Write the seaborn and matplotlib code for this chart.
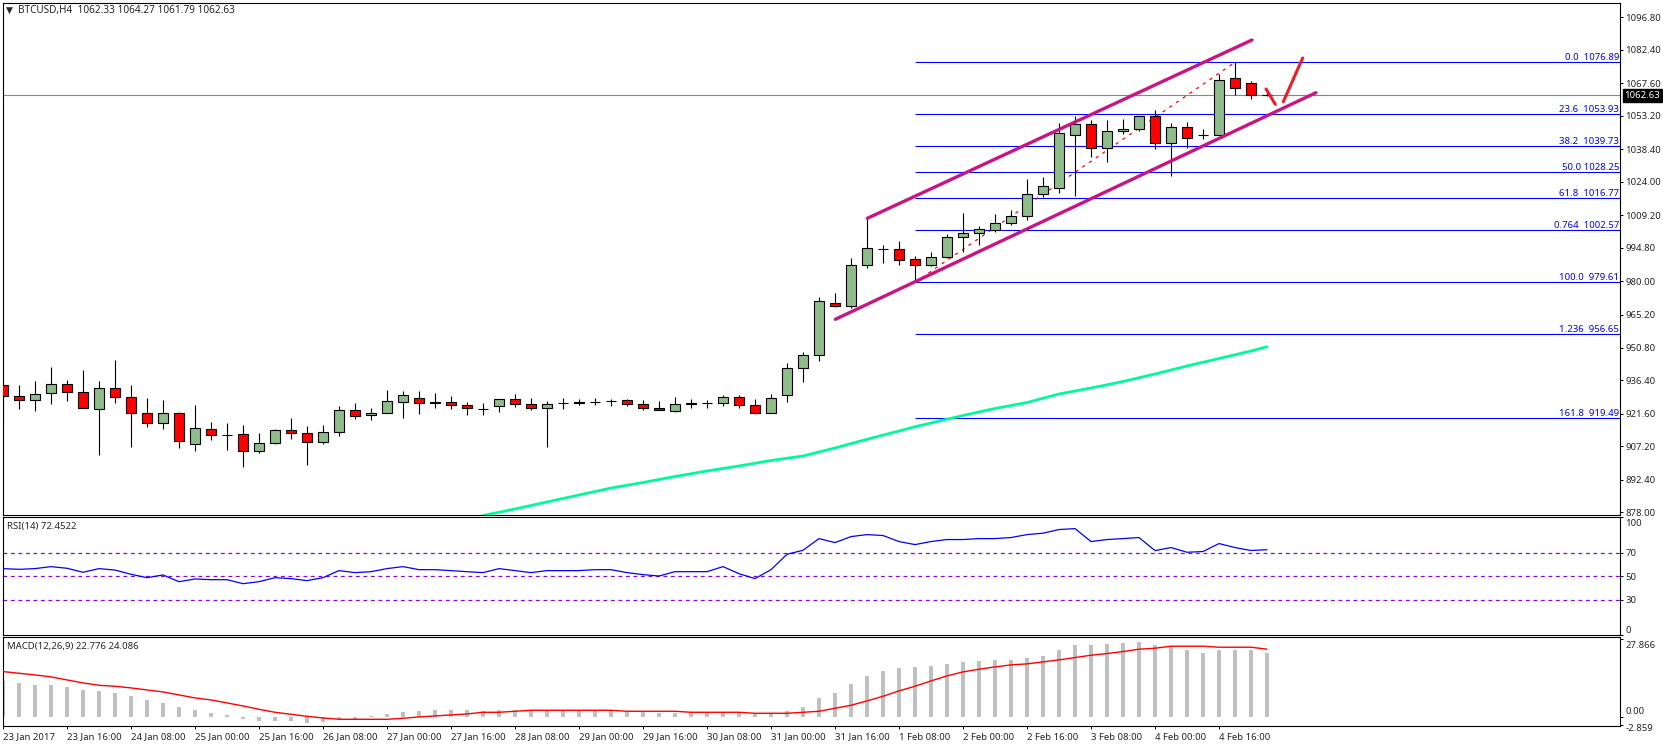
import numpy as np
import pandas as pd
import seaborn as sns
import matplotlib.pyplot as plt
from matplotlib.transforms import ScaledTranslation

# candles, one value per 4h bar
opens = [934.08, 929.22, 927.45, 930.54, 934.52, 930.99, 923.47, 932.75, 928.77, 921.70,
         917.28, 921.70, 908.00, 914.63, 912.12, 912.42, 904.90, 908.44, 914.19, 912.86,
         908.88, 913.30, 923.03, 920.82, 921.70, 926.57, 928.33, 926.57, 926.57, 925.24,
         923.47, 924.80, 927.89, 925.68, 923.91, 926.12, 926.57, 926.57, 926.95, 927.45,
         925.68, 923.91, 922.74, 926.20, 926.12, 926.12, 928.78, 925.24, 922.00, 929.66,
         941.60, 947.34, 970.33, 969.01, 987.13, 994.35, 994.21, 989.79, 987.43, 990.96,
         999.51, 1001.28, 1002.90, 1005.70, 1008.80, 1018.52, 1021.17, 1044.60, 1049.47, 1038.86,
         1046.37, 1047.26, 1053.00, 1041.07, 1048.14, 1044.75, 1044.60, 1069.80, 1067.59, 1062.33]
highs = [934.52, 934.08, 935.85, 942.04, 936.29, 940.71, 935.85, 945.13, 934.08, 928.33,
         927.45, 922.14, 925.24, 917.72, 917.28, 916.40, 912.86, 914.63, 919.49, 915.96,
         916.40, 924.80, 926.12, 923.91, 931.87, 931.43, 931.43, 930.54, 929.22, 926.57,
         926.12, 927.89, 930.10, 928.33, 927.01, 928.33, 927.89, 928.33, 927.89, 927.89,
         927.45, 927.01, 928.78, 927.89, 927.45, 929.66, 929.66, 927.89, 930.10, 943.81,
         948.67, 972.98, 974.75, 990.23, 1007.62, 996.12, 997.89, 991.11, 992.88, 1000.84,
         1010.27, 1004.37, 1009.68, 1011.45, 1025.30, 1026.18, 1049.91, 1053.00, 1051.24, 1051.24,
         1051.68, 1053.00, 1055.66, 1049.91, 1050.35, 1047.26, 1071.57, 1076.89, 1068.48, 1064.27]
lows = [915.81, 923.76, 922.88, 925.98, 927.30, 923.91, 903.43, 926.42, 906.97, 915.81,
        914.92, 906.52, 905.20, 910.06, 905.64, 898.12, 904.31, 908.29, 910.50, 899.01,
        908.29, 911.83, 919.35, 918.90, 921.70, 919.79, 921.56, 924.21, 923.77, 921.11,
        921.11, 922.44, 924.65, 923.32, 906.97, 923.77, 925.24, 925.24, 924.95, 925.09,
        923.18, 923.00, 922.20, 924.21, 924.21, 925.09, 924.21, 921.26, 921.70, 926.86,
        935.70, 944.69, 968.56, 968.42, 986.10, 988.31, 987.28, 979.61, 986.99, 990.52,
        993.18, 996.12, 1002.02, 1004.82, 1007.17, 1017.49, 1019.26, 1017.93, 1035.17, 1032.96,
        1045.34, 1046.67, 1038.71, 1026.77, 1039.15, 1043.13, 1044.60, 1062.58, 1060.81, 1061.79]
closes = [929.22, 927.45, 930.10, 934.52, 930.99, 923.91, 932.75, 928.77, 921.70, 917.28,
          921.70, 909.32, 915.07, 911.98, 912.00, 904.90, 908.44, 914.19, 912.86, 908.88,
          913.30, 923.03, 920.38, 921.70, 927.01, 929.66, 926.12, 926.12, 925.24, 923.91,
          923.47, 927.89, 925.68, 923.91, 925.68, 926.12, 926.12, 926.57, 926.95, 925.68,
          923.91, 923.33, 925.68, 925.90, 926.12, 928.78, 925.24, 922.00, 928.33, 941.60,
          947.34, 971.22, 969.01, 987.13, 994.65, 994.45, 989.64, 987.43, 990.96, 999.51,
          1001.28, 1003.05, 1005.70, 1008.80, 1018.52, 1022.06, 1045.49, 1049.47, 1038.86, 1046.37,
          1047.26, 1053.00, 1041.07, 1048.14, 1043.28, 1044.90, 1068.92, 1065.38, 1062.29, 1062.63]

# moving average, read at some of the bars
ma_bars = [30, 32, 34, 36, 38, 40, 42, 44, 46, 48, 50, 52, 54, 56, 57, 58, 60, 62, 64, 66, 68, 70, 72, 74, 76, 78, 79]
ma_values = [876.54, 879.41, 882.51, 885.60, 888.69, 891.13, 893.78, 896.21, 898.42, 900.85, 902.84, 906.38,
             910.22, 913.89, 915.79, 917.43, 920.75, 923.84, 926.49, 930.25, 932.90, 935.78, 939.09, 942.63,
             945.94, 949.26, 951.16]

rsi_values = [56.4, 55.8, 56.4, 58.1, 56.7, 53.3, 56.4, 55.2, 51.6, 48.7,
              51.0, 45.3, 47.6, 47.0, 47.0, 43.6, 45.3, 48.7, 47.9, 46.2,
              48.7, 54.7, 53.0, 53.8, 56.4, 58.1, 55.5, 55.5, 54.7, 53.8,
              53.0, 56.4, 54.7, 53.0, 54.7, 54.7, 54.7, 55.5, 55.5, 53.0,
              51.3, 50.1, 53.8, 53.8, 53.8, 58.1, 52.1, 47.9, 55.5, 68.6,
              72.0, 81.9, 78.5, 83.6, 85.3, 84.5, 79.4, 76.8, 79.4, 81.1,
              81.1, 81.9, 81.9, 82.8, 85.3, 86.5, 89.6, 90.4, 79.4, 81.1,
              81.9, 82.8, 71.7, 74.3, 70.3, 70.9, 77.7, 74.3, 71.8, 72.45]

macd_hist = [12.87, 12.16, 11.45, 11.45, 10.74, 9.68, 9.33, 8.62, 7.56, 6.14,
             5.08, 3.66, 2.60, 1.53, 0.83, -0.59, -1.30, -1.30, -1.30, -2.01,
             -1.65, -0.71, -0.71, 0.47, 1.18, 1.89, 2.24, 2.60, 2.60, 2.60,
             2.24, 2.60, 2.60, 2.24, 2.24, 2.24, 2.24, 2.24, 2.24, 1.89,
             1.89, 1.53, 1.53, 1.53, 1.53, 1.53, 1.53, 1.18, 1.18, 2.24,
             3.66, 6.85, 8.62, 11.81, 14.64, 16.41, 17.47, 17.83, 18.18, 18.89,
             19.60, 19.95, 20.31, 20.31, 21.02, 21.72, 23.85, 25.62, 25.62, 25.97,
             26.33, 26.68, 25.62, 24.91, 23.85, 22.78, 23.85, 23.85, 23.85, 22.78]
macd_signal = [16.17, 15.58, 14.99, 14.29, 13.22, 12.16, 11.33, 10.98, 10.39, 9.68,
               8.97, 7.91, 6.85, 6.14, 5.08, 4.01, 2.83, 1.77, 1.06, 0.35,
               -0.24, -0.71, -0.71, -0.71, -0.71, -0.35, 0.12, 0.47, 0.83, 1.18,
               1.77, 1.77, 2.13, 2.48, 2.48, 2.48, 2.48, 2.48, 2.48, 2.13,
               2.13, 2.13, 2.13, 1.77, 1.77, 1.77, 1.77, 1.42, 1.42, 1.42,
               1.77, 2.13, 3.19, 4.25, 5.79, 7.44, 9.33, 10.98, 12.87, 14.64,
               16.06, 17.00, 17.83, 18.54, 18.89, 19.60, 20.31, 21.13, 21.96, 22.55,
               23.26, 24.09, 24.44, 25.15, 25.15, 25.15, 24.79, 24.79, 24.79, 24.09]

# fibonacci levels
fib_labels = ['0.0  1076.89', '23.6  1053.93', '38.2  1039.73', '50.0 1028.25', '61.8  1016.77',
              '0.764  1002.57', '100.0  979.61', '1.236  956.65', '161.8  919.49']
fib_prices = [1076.89, 1053.93, 1039.73, 1028.25, 1016.77, 1002.57, 979.61, 956.65, 919.49]

price_ticks = [1096.80, 1082.40, 1067.60, 1053.20, 1038.40, 1024.00, 1009.20, 994.80, 980.00,
               965.20, 950.80, 936.40, 921.60, 907.20, 892.40, 878.00]
date_labels = ['23 Jan 2017', '23 Jan 16:00', '24 Jan 08:00', '25 Jan 00:00', '25 Jan 16:00',
               '26 Jan 08:00', '27 Jan 00:00', '27 Jan 16:00', '28 Jan 08:00', '29 Jan 00:00',
               '29 Jan 16:00', '30 Jan 08:00', '31 Jan 00:00', '31 Jan 16:00', '1 Feb 08:00',
               '2 Feb 00:00', '2 Feb 16:00', '3 Feb 08:00', '4 Feb 00:00', '4 Feb 16:00']

# hand drawn lines: (bar, price) at each end
channel_upper = ([54.02, 78.06], [1007.92, 1086.75])
channel_lower = ([52.02, 82.06], [963.27, 1063.45])
stroke_down = ([78.94, 79.52], [1065.09, 1058.32])
stroke_up = ([80.02, 81.23], [1059.47, 1078.79])

last_price = 1062.63
LABEL = 6.9
W, H = 1663, 747

sns.set_style('white')
plt.rcParams['font.family'] = ['Noto Sans', 'DejaVu Sans']

fig = plt.figure(figsize=(W / 100, H / 100), dpi=100)


def panel(top, bottom, left=2.5, right=1620.3):
    ax = fig.add_axes([left / W, 1 - bottom / H, (right - left) / W, (bottom - top) / H])
    ax.set_xlim(-0.03, 101.08)
    for s in ax.spines.values():
        s.set_linewidth(0.8)
        s.set_color('black')
    ax.yaxis.tick_right()
    ax.tick_params(axis='y', length=2.2, width=0.7, pad=1.5, labelsize=LABEL, right=True, color='black')
    return ax


def nudge(label, dy):
    # move a tick label down by dy pixels
    label.set_transform(label.get_transform() + ScaledTranslation(0, -dy / 100, fig.dpi_scale_trans))


bars = pd.DataFrame({'bar': np.arange(len(opens)), 'open': opens, 'high': highs, 'low': lows, 'close': closes})
up = bars['close'] >= bars['open']
body_low = bars[['open', 'close']].min(axis=1)
body_height = (bars['close'] - bars['open']).abs()

# main chart
ax = panel(2.5, 515)
ax.set_ylim(876.76, 1103.33)

ax.axhline(last_price, color='#778899', lw=0.8, zorder=1)
ax.hlines(fib_prices, 57, 101.08, color='#0000FF', lw=0.8, zorder=1)
ax.plot([57, 77], [979.61, 1076.89], color='red', lw=0.9, ls=(0, (2.5, 4)), zorder=2)

ax.vlines(bars['bar'], bars['low'], bars['high'], color='black', lw=0.8, zorder=3)
ax.bar(bars['bar'][up], body_height[up], width=0.62, bottom=body_low[up], color='#8FBC8B',
       edgecolor='black', linewidth=0.8, zorder=4)
ax.bar(bars['bar'][~up], body_height[~up], width=0.62, bottom=body_low[~up], color='#FF0000',
       edgecolor='black', linewidth=0.8, zorder=4)

sns.lineplot(x=ma_bars, y=ma_values, ax=ax, color='#00FA9A', lw=2.0, errorbar=None, zorder=5)
for line in (channel_upper, channel_lower):
    ax.plot(line[0], line[1], color='#C71585', lw=2.4, zorder=6)
for line in (stroke_down, stroke_up):
    ax.plot(line[0], line[1], color='#EE1C25', lw=2.2, zorder=6)

for label, price in zip(fib_labels, fib_prices):
    ax.annotate(label, (1, price), xycoords=ax.get_yaxis_transform(), xytext=(-1, 0),
                textcoords='offset points', ha='right', va='bottom', color='#0000FF', fontsize=LABEL)

ax.set_yticks(price_ticks)
ax.set_yticklabels(['%.2f' % p for p in price_ticks])
ax.set_xticks([])
ax.text(1624.5 / W, 1 - 95.6 / H, '%.2f' % last_price, transform=fig.transFigure, ha='left', va='center',
        color='white', fontsize=LABEL, zorder=10,
        bbox=dict(facecolor='black', edgecolor='black', pad=1.2))

ax.text(9 / W, 1 - 10.7 / H, '\u25bc', transform=fig.transFigure, fontsize=6.5, ha='center', va='center',
        family=['DejaVu Sans'])
ax.text(18 / W, 1 - 10.7 / H, 'BTCUSD,H4  1062.33 1064.27 1061.79 1062.63', transform=fig.transFigure,
        ha='left', va='center', fontsize=7.2)

# RSI
ax_rsi = panel(517.3, 635)
ax_rsi.set_ylim(0, 100)
for level in [70, 50, 30]:
    ax_rsi.axhline(level, color='#9400D3', lw=0.9, ls=(0, (3, 3)))
sns.lineplot(x=bars['bar'], y=rsi_values, ax=ax_rsi, color='#0000FF', lw=0.9, errorbar=None)
ax_rsi.set_xlabel('')
ax_rsi.set_xticks([])
ax_rsi.set_yticks([100, 70, 50, 30, 0])
ax_rsi.set_yticklabels(['100', '70', '50', '30', '0'])
ax_rsi.get_yticklabels()[0].set_va('top')
ax_rsi.get_yticklabels()[4].set_va('bottom')
nudge(ax_rsi.get_yticklabels()[0], 2)
ax_rsi.text(7 / W, 1 - 526.7 / H, 'RSI(14) 72.4522', transform=fig.transFigure, ha='left', va='center',
            fontsize=LABEL)

# MACD
ax_macd = panel(637.3, 726.3)
ax_macd.set_ylim(-3.19, 28.3)
ax_macd.bar(bars['bar'], macd_hist, width=0.2, color='#C0C0C0', linewidth=0, zorder=2)
sns.lineplot(x=bars['bar'], y=macd_signal, ax=ax_macd, color='#FF0000', lw=1.0, errorbar=None, zorder=3)
ax_macd.set_yticks([27.866, 0, -2.859])
ax_macd.set_yticklabels(['27.866', '0.00', '-2.859'])
ax_macd.get_yticklabels()[0].set_va('top')
ax_macd.get_yticklabels()[1].set_va('bottom')
nudge(ax_macd.get_yticklabels()[0], 2)
nudge(ax_macd.get_yticklabels()[1], -1)
nudge(ax_macd.get_yticklabels()[2], 2)
ax_macd.text(7 / W, 1 - 646 / H, 'MACD(12,26,9) 22.776 24.086', transform=fig.transFigure, ha='left',
             va='center', fontsize=LABEL)
ax_macd.set_xlabel('')
ax_macd.set_xticks(np.arange(0, len(date_labels) * 4, 4))
ax_macd.set_xticklabels(date_labels, ha='left')
ax_macd.tick_params(axis='x', length=2.2, width=0.7, pad=2.3, labelsize=LABEL, bottom=True, color='black')

fig.savefig('out.png', dpi=100)
